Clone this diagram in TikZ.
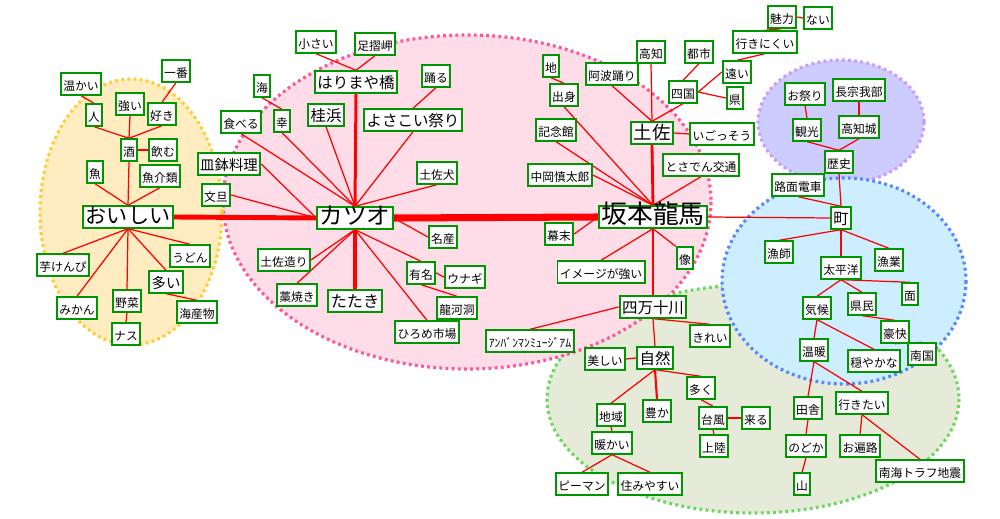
\documentclass[tikz,border=0pt]{standalone}
\usepackage{fontspec}
\setmainfont{Noto Sans CJK JP}
\usepackage{tikz}
\usetikzlibrary{positioning}
\usepackage{xcolor}
\definecolor{wordgreen}{RGB}{0,150,0}
\definecolor{linkred}{RGB}{255,0,0}
\definecolor{yellowfill}{RGB}{255,236,192}
\definecolor{yellowdot}{RGB}{255,204,51}
\definecolor{pinkfill}{RGB}{255,221,232}
\definecolor{pinkdot}{RGB}{255,85,153}
\definecolor{purplefill}{RGB}{204,204,255}
\definecolor{purpledot}{RGB}{204,153,255}
\definecolor{bluefill}{RGB}{204,238,255}
\definecolor{bluedot}{RGB}{85,136,255}
\definecolor{greenfill}{RGB}{229,235,216}
\definecolor{greendot}{RGB}{110,215,95}
\pgfdeclarelayer{blobs}
\pgfdeclarelayer{links}
\pgfsetlayers{blobs,links,main}

\tikzset{
  word/.style={draw=wordgreen, line width=1.1pt, fill=white, inner xsep=1.4pt, inner ysep=1.1pt,
    text height=0.86em, text depth=0.14em, font=\fontsize{6.7}{7}\selectfont},
  midword/.style={word, font=\fontsize{8.8}{9}\selectfont},
  link/.style={linkred, line width=0.7pt},
  blob/.style={line width=1.8pt, dash pattern=on 1.6pt off 1.9pt}
}

\begin{document}
\begin{tikzpicture}[x=0.02cm,y=-0.02cm]
\useasboundingbox (0,0) rectangle (1000,519);

\begin{pgfonlayer}{blobs}
  \draw[blob, fill=greenfill, draw=greendot] (753,399) ellipse [x radius=206, y radius=114];
  \draw[blob, fill=purplefill, draw=purpledot] (841,122) ellipse [x radius=83, y radius=62];
  \draw[blob, fill=bluefill, draw=bluedot] (844,281) ellipse [x radius=122, y radius=103];
  \draw[blob, fill=pinkfill, draw=pinkdot] (467,202) ellipse [x radius=244, y radius=167];
  \draw[blob, fill=yellowfill, draw=yellowdot] (131,212) ellipse [x radius=91, y radius=133];
\end{pgfonlayer}

% おいしい
\node[word] (ichiban) at (176,71) {一番};
\node[word] (atatakai) at (81,84) {温かい};
\node[word] (tsuyoi) at (130,104) {強い};
\node[word] (hito) at (94,115) {人};
\node[word] (suki) at (162,114) {好き};
\node[word] (sake) at (129,150) {酒};
\node[word] (nomu) at (163,150) {飲む};
\node[word] (sakana) at (95,172) {魚};
\node[word] (gyokai) at (160,176) {魚介類};
\node[word, font=\fontsize{12}{12}\selectfont] (oishii) at (128,217) {おいしい};
\node[word] (udon) at (190,256) {うどん};
\node[word] (imokenpi) at (63,265) {芋けんぴ};
\node[word, font=\fontsize{8.2}{9}\selectfont] (ooi) at (166,282) {多い};
\node[word] (yasai) at (127,301) {野菜};
\node[word] (mikan) at (77,308) {みかん};
\node[word] (kaisan) at (197,312) {海産物};
\node[word] (nasu) at (126,334) {ナス};

% カツオ
\node[word] (chiisai) at (316,42) {小さい};
\node[word] (ashizuri) at (375,44) {足摺岬};
\node[midword] (harimaya) at (356,82) {はりまや橋};
\node[word] (umi) at (262,86) {海};
\node[word] (odoru) at (436,76) {踊る};
\node[midword] (katsurahama) at (326,115) {桂浜};
\node[midword] (yosakoi) at (413,120) {よさこい祭り};
\node[word] (taberu) at (241,122) {食べる};
\node[word] (sachi) at (282,121) {幸};
\node[word, font=\fontsize{8.2}{9}\selectfont] (sawachi) at (229,164) {皿鉢料理};
\node[word] (tosaken) at (437,173) {土佐犬};
\node[word] (buntan) at (216,195) {文旦};
\node[word, font=\fontsize{13.4}{14}\selectfont] (katsuo) at (355,218) {カツオ};
\node[word] (meisan) at (443,237) {名産};
\node[word] (tosazukuri) at (284,260) {土佐造り};
\node[word] (yumei) at (421,273) {有名};
\node[word] (unagi) at (465,277) {ウナギ};
\node[word] (warayaki) at (297,295) {藁焼き};
\node[midword, font=\fontsize{9.2}{10}\selectfont] (tataki) at (355,301) {たたき};
\node[word] (ryugado) at (457,308) {龍河洞};
\node[word] (hirome) at (427,332) {ひろめ市場};

% 坂本龍馬
\node[word] (chi) at (551,66) {地};
\node[word] (awaodori) at (612,74) {阿波踊り};
\node[word] (kochi) at (651,52) {高知};
\node[word] (toshi) at (699,52) {都市};
\node[word] (shusshin) at (564,95) {出身};
\node[word] (shikoku) at (683,92) {四国};
\node[word] (tooi) at (737,72) {遠い};
\node[word] (ken) at (735,98) {県};
\node[word] (ikinikui) at (765,42) {行きにくい};
\node[word] (miryoku) at (782,17) {魅力};
\node[word] (nai) at (818,18) {ない};
\node[word] (kinenkan) at (556,130) {記念館};
\node[word, font=\fontsize{10.5}{11}\selectfont] (tosa) at (652,133) {土佐};
\node[word] (igosso) at (722,134) {いごっそう};
\node[word] (tosaden) at (701,165) {とさでん交通};
\node[word] (nakaoka) at (560,175) {中岡慎太郎};
\node[word, font=\fontsize{14.7}{15}\selectfont] (ryoma) at (653,217) {坂本龍馬};
\node[word] (bakumatsu) at (559,234) {幕末};
\node[word] (zo) at (685,258) {像};
\node[word] (image) at (601,272) {イメージが強い};
\node[midword] (shimanto) at (653,307) {四万十川};
\node[word] (anpanman) at (530,341) {ｱﾝﾊﾞﾝﾏﾝﾐｭｰｼﾞｱﾑ};
\node[word] (kirei) at (710,336) {きれい};
\node[word] (utsukushii) at (605,359) {美しい};
\node[midword] (shizen) at (655,358) {自然};

% 自然
\node[word] (chiiki) at (611,415) {地域};
\node[word] (yutaka) at (657,411) {豊か};
\node[word] (ooku) at (701,388) {多く};
\node[word] (taifu) at (713,418) {台風};
\node[word] (kuru) at (756,418) {来る};
\node[word] (joriku) at (714,446) {上陸};
\node[word] (danka) at (612,443) {暖かい};
\node[word] (piman) at (582,484) {ピーマン};
\node[word] (sumiyasui) at (650,484) {住みやすい};
\node[word] (inaka) at (808,408) {田舎};
\node[word] (ikitai) at (862,403) {行きたい};
\node[word] (nodoka) at (806,446) {のどか};
\node[word] (ohenro) at (860,446) {お遍路};
\node[word] (yama) at (802,484) {山};
\node[word] (nankai) at (920,471) {南海トラフ地震};

% 町・歴史
\node[word] (omatsuri) at (805,94) {お祭り};
\node[word] (chosokabe) at (859,90) {長宗我部};
\node[word] (kanko) at (807,130) {観光};
\node[word] (kochijo) at (859,127) {高知城};
\node[word] (rekishi) at (839,162) {歴史};
\node[word] (romen) at (798,185) {路面電車};
\node[midword] (machi) at (841,218) {町};
\node[word] (ryoshi) at (779,252) {漁師};
\node[word] (gyogyo) at (889,260) {漁業};
\node[word] (taiheiyo) at (841,268) {太平洋};
\node[word] (men) at (910,294) {面};
\node[word] (kiko) at (817,308) {気候};
\node[word] (kenmin) at (862,304) {県民};
\node[word] (goukai) at (895,332) {豪快};
\node[word] (ondan) at (814,350) {温暖};
\node[word] (odayaka) at (874,361) {穏やかな};
\node[word] (nangoku) at (922,354) {南国};

\begin{pgfonlayer}{links}
  \draw[link] (hito.north) -- (atatakai.south);
  \draw[link] (hito.south) -- (sake.north);
  \draw[link] (tsuyoi.south) -- (sake.north);
  \draw[link] (suki.south) -- (sake.north);
  \draw[link] (suki.north) -- (ichiban.south);
  \draw[link] (sake.east) -- (nomu.west);
  \draw[link] (sake.south) -- (oishii.north);
  \draw[link] (sakana.south) -- (oishii.north);
  \draw[link] (gyokai.south) -- (oishii.north);
  \draw[link] (oishii.south) -- (udon.north);
  \draw[link] (oishii.south) -- (imokenpi.north);
  \draw[link] (oishii.south) -- (mikan.north);
  \draw[link] (oishii.south) -- (yasai.north);
  \draw[link] (oishii.south) -- (ooi.north);
  \draw[link] (ooi.south) -- (kaisan.north);
  \draw[link] (yasai.south) -- (nasu.north);
  \draw[link, line width=2.8pt] (oishii.east) -- (katsuo.west);

  \draw[link] (chiisai.south) -- (harimaya.north);
  \draw[link] (ashizuri.south) -- (harimaya.north);
  \draw[link, line width=1.7pt] (harimaya.south) -- (katsuo.north);
  \draw[link] (umi.south) -- (sachi.north);
  \draw[link] (taberu.south) -- (katsuo.north);
  \draw[link] (sachi.south) -- (katsuo.north);
  \draw[link] (katsurahama.south) -- (katsuo.north);
  \draw[link] (yosakoi.south) -- (katsuo.north);
  \draw[link] (odoru.south) -- (yosakoi.north);
  \draw[link] (sawachi.east) -- (katsuo.west);
  \draw[link] (buntan.east) -- (katsuo.west);
  \draw[link] (tosaken.south) -- (katsuo.north);
  \draw[link] (katsuo.east) -- (meisan.west);
  \draw[link] (katsuo.south) -- (tosazukuri.east);
  \draw[link] (katsuo.south) -- (warayaki.north);
  \draw[link, line width=2.3pt] (katsuo.south) -- (tataki.north);
  \draw[link] (katsuo.south) -- (yumei.north);
  \draw[link] (katsuo.south) -- (hirome.north);
  \draw[link] (yumei.east) -- (unagi.west);
  \draw[link] (yumei.south) -- (ryugado.north);
  \draw[link, line width=4pt] (katsuo.east) -- (ryoma.west);

  \draw[link] (chi.south) -- (shusshin.north);
  \draw[link] (shusshin.south) -- (ryoma.north);
  \draw[link] (kinenkan.south) -- (ryoma.north);
  \draw[link] (nakaoka.east) -- (ryoma.north);
  \draw[link] (tosaden.south) -- (ryoma.north);
  \draw[link] (awaodori.south) -- (tosa.north);
  \draw[link] (kochi.south) -- (tosa.north);
  \draw[link] (shikoku.south) -- (tosa.north);
  \draw[link] (toshi.south) -- (shikoku.north);
  \draw[link] (shikoku.east) -- (tooi.west);
  \draw[link] (shikoku.east) -- (ken.west);
  \draw[link] (tooi.north) -- (ikinikui.south);
  \draw[link] (ikinikui.north) -- (miryoku.south);
  \draw[link] (miryoku.east) -- (nai.west);
  \draw[link] (tosa.east) -- (igosso.west);
  \draw[link, line width=1.6pt] (tosa.south) -- (ryoma.north);
  \draw[link] (ryoma.west) -- (bakumatsu.east);
  \draw[link] (ryoma.south) -- (image.north);
  \draw[link] (ryoma.south) -- (zo.north west);
  \draw[link, line width=1.6pt] (ryoma.south) -- (shimanto.north);
  \draw[link] (ryoma.east) -- (machi.west);
  \draw[link] (shimanto.west) -- (anpanman.north);
  \draw[link] (shimanto.south) -- (kirei.north);
  \draw[link] (shimanto.south) -- (shizen.north);

  \draw[link] (shizen.west) -- (utsukushii.east);
  \draw[link] (shizen.south) -- (chiiki.north);
  \draw[link, line width=1.2pt] (shizen.south) -- (yutaka.north);
  \draw[link] (shizen.south) -- (ooku.north);
  \draw[link] (ooku.south) -- (taifu.north);
  \draw[link] (taifu.east) -- (kuru.west);
  \draw[link] (taifu.south) -- (joriku.north);
  \draw[link] (chiiki.south) -- (danka.north);
  \draw[link] (danka.south) -- (piman.north);
  \draw[link] (danka.south) -- (sumiyasui.north);
  \draw[link] (ondan.south) -- (inaka.north);
  \draw[link] (ondan.south) -- (ikitai.north);
  \draw[link] (inaka.south) -- (nodoka.north);
  \draw[link] (nodoka.south) -- (yama.north);
  \draw[link] (ikitai.south) -- (ohenro.north);
  \draw[link] (ikitai.south) -- (nankai.north);

  \draw[link] (omatsuri.south) -- (kanko.north);
  \draw[link] (chosokabe.south) -- (kochijo.north);
  \draw[link] (kanko.south) -- (rekishi.north);
  \draw[link] (kochijo.south) -- (rekishi.north);
  \draw[link] (rekishi.south) -- (machi.north);
  \draw[link] (romen.south) -- (machi.north);
  \draw[link] (machi.south) -- (ryoshi.north);
  \draw[link] (machi.south) -- (taiheiyo.north);
  \draw[link] (machi.south) -- (gyogyo.north);
  \draw[link] (taiheiyo.south) -- (kiko.north);
  \draw[link] (taiheiyo.south) -- (kenmin.north);
  \draw[link] (taiheiyo.south) -- (men.north);
  \draw[link] (kenmin.south) -- (goukai.north);
  \draw[link] (goukai.south) -- (nangoku.north);
  \draw[link] (kiko.south) -- (ondan.north);
  \draw[link] (kiko.south) -- (odayaka.north);
\end{pgfonlayer}
\end{tikzpicture}
\end{document}
